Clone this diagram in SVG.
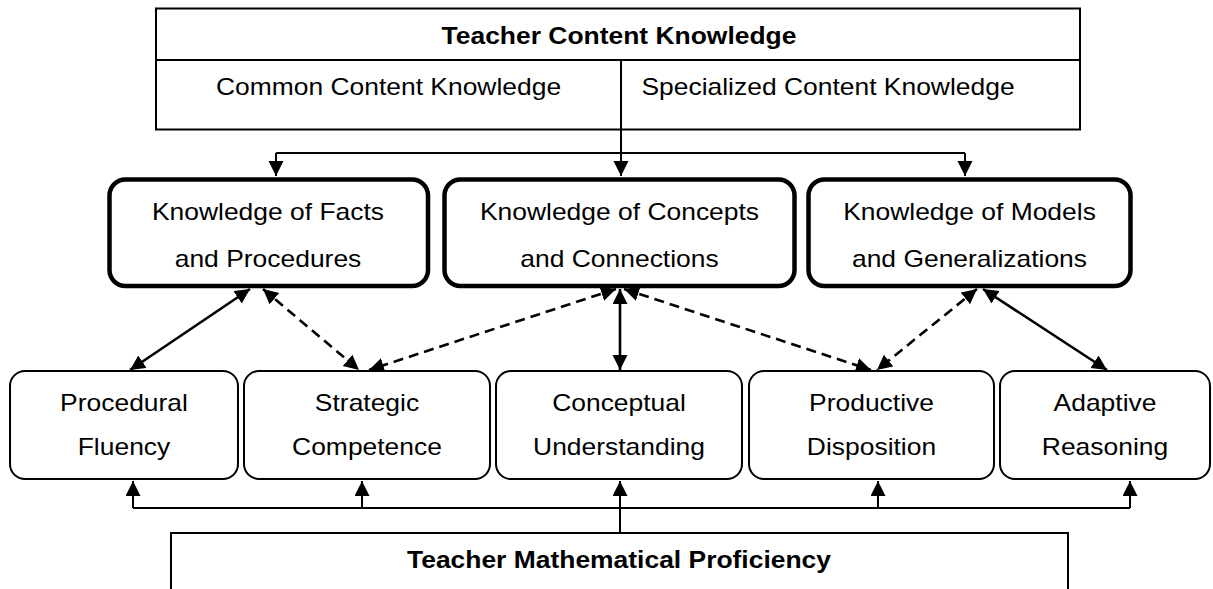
<svg xmlns="http://www.w3.org/2000/svg" width="1213" height="589" viewBox="0 0 1213 589">
<style>
  .t { font-family: "Liberation Sans", Arial, sans-serif; font-size: 23.4px; fill: #000; text-anchor: middle; }
  .b { font-weight: bold; }
  .plain { fill: #fff; stroke: #000; stroke-width: 2; }
  .thick { fill: #fff; stroke: #000; stroke-width: 4.5; }
  .thin { fill: #fff; stroke: #000; stroke-width: 2; }
  .ln { fill: none; stroke: #000; stroke-width: 2; }
  .ar { fill: none; stroke: #000; stroke-width: 2.6; }
  .dash { stroke-dasharray: 10 6; }
</style>
<defs>
  <marker id="ah" markerUnits="userSpaceOnUse" markerWidth="16" markerHeight="16" refX="15" refY="7.5" orient="auto-start-reverse" viewBox="0 0 16 16">
    <path d="M0,0 L15,7.5 L0,15 z" fill="#000"/>
  </marker>
</defs>
<rect width="1213" height="589" fill="#fff"/>

<g id="connectors">
  <!-- top distribution -->
  <path class="ln" d="M621,60 V176" marker-end="url(#ah)"/>
  <path class="ln" d="M276,153 H965"/>
  <path class="ln" d="M276,153 V176" marker-end="url(#ah)"/>
  <path class="ln" d="M965,153 V176" marker-end="url(#ah)"/>
  <!-- middle to bottom row -->
  <path class="ar" d="M250,289 L130,370" marker-start="url(#ah)" marker-end="url(#ah)"/>
  <path class="ar dash" d="M263,289 L359,370" marker-start="url(#ah)" marker-end="url(#ah)"/>
  <path class="ar dash" d="M616,289 L369,370" marker-start="url(#ah)" marker-end="url(#ah)"/>
  <path class="ar" d="M620,289 L620,370" marker-start="url(#ah)" marker-end="url(#ah)"/>
  <path class="ar dash" d="M624,289 L871,370" marker-start="url(#ah)" marker-end="url(#ah)"/>
  <path class="ar dash" d="M977,289 L877,370" marker-start="url(#ah)" marker-end="url(#ah)"/>
  <path class="ar" d="M983,289 L1107,370" marker-start="url(#ah)" marker-end="url(#ah)"/>
  <!-- bottom distribution -->
  <path class="ln" d="M620,533 V481" marker-end="url(#ah)"/>
  <path class="ln" d="M133,508 H1130"/>
  <path class="ln" d="M133,508 V481" marker-end="url(#ah)"/>
  <path class="ln" d="M362,508 V481" marker-end="url(#ah)"/>
  <path class="ln" d="M878,508 V481" marker-end="url(#ah)"/>
  <path class="ln" d="M1130,508 V481" marker-end="url(#ah)"/>
</g>

<g id="teacher-content-knowledge">
  <rect class="plain" x="156" y="8.5" width="924" height="121"/>
  <path class="ln" d="M156,60 H1080 M621,60 V130"/>
  <text class="t b" transform="translate(619,44) scale(1.13,1)">Teacher Content Knowledge</text>
  <text class="t" transform="translate(388.5,95) scale(1.13,1)">Common Content Knowledge</text>
  <text class="t" transform="translate(828,95) scale(1.13,1)">Specialized Content Knowledge</text>
</g>

<g id="knowledge-facts">
  <rect class="thick" x="109.5" y="179.5" width="318.5" height="106.5" rx="16"/>
  <text class="t" transform="translate(268,220) scale(1.13,1)">Knowledge of Facts</text>
  <text class="t" transform="translate(268,267) scale(1.13,1)">and Procedures</text>
</g>
<g id="knowledge-concepts">
  <rect class="thick" x="444.5" y="179.5" width="350" height="106.5" rx="16"/>
  <text class="t" transform="translate(619.5,220) scale(1.13,1)">Knowledge of Concepts</text>
  <text class="t" transform="translate(619.5,267) scale(1.13,1)">and Connections</text>
</g>
<g id="knowledge-models">
  <rect class="thick" x="808.5" y="179.5" width="322" height="106.5" rx="16"/>
  <text class="t" transform="translate(969.5,220) scale(1.13,1)">Knowledge of Models</text>
  <text class="t" transform="translate(969.5,267) scale(1.13,1)">and Generalizations</text>
</g>

<g id="procedural-fluency">
  <rect class="thin" x="10" y="371" width="228" height="108" rx="15"/>
  <text class="t" transform="translate(124,411) scale(1.13,1)">Procedural</text>
  <text class="t" transform="translate(124,455) scale(1.13,1)">Fluency</text>
</g>
<g id="strategic-competence">
  <rect class="thin" x="244" y="371" width="246" height="108" rx="15"/>
  <text class="t" transform="translate(367,411) scale(1.13,1)">Strategic</text>
  <text class="t" transform="translate(367,455) scale(1.13,1)">Competence</text>
</g>
<g id="conceptual-understanding">
  <rect class="thin" x="496" y="371" width="246" height="108" rx="15"/>
  <text class="t" transform="translate(619,411) scale(1.13,1)">Conceptual</text>
  <text class="t" transform="translate(619,455) scale(1.13,1)">Understanding</text>
</g>
<g id="productive-disposition">
  <rect class="thin" x="749" y="371" width="245" height="108" rx="15"/>
  <text class="t" transform="translate(871.5,411) scale(1.13,1)">Productive</text>
  <text class="t" transform="translate(871.5,455) scale(1.13,1)">Disposition</text>
</g>
<g id="adaptive-reasoning">
  <rect class="thin" x="1000" y="371" width="210" height="108" rx="15"/>
  <text class="t" transform="translate(1105,411) scale(1.13,1)">Adaptive</text>
  <text class="t" transform="translate(1105,455) scale(1.13,1)">Reasoning</text>
</g>

<g id="teacher-mathematical-proficiency">
  <rect class="plain" x="171" y="533" width="897" height="70"/>
  <text class="t b" transform="translate(619,568) scale(1.13,1)">Teacher Mathematical Proficiency</text>
</g>
</svg>
